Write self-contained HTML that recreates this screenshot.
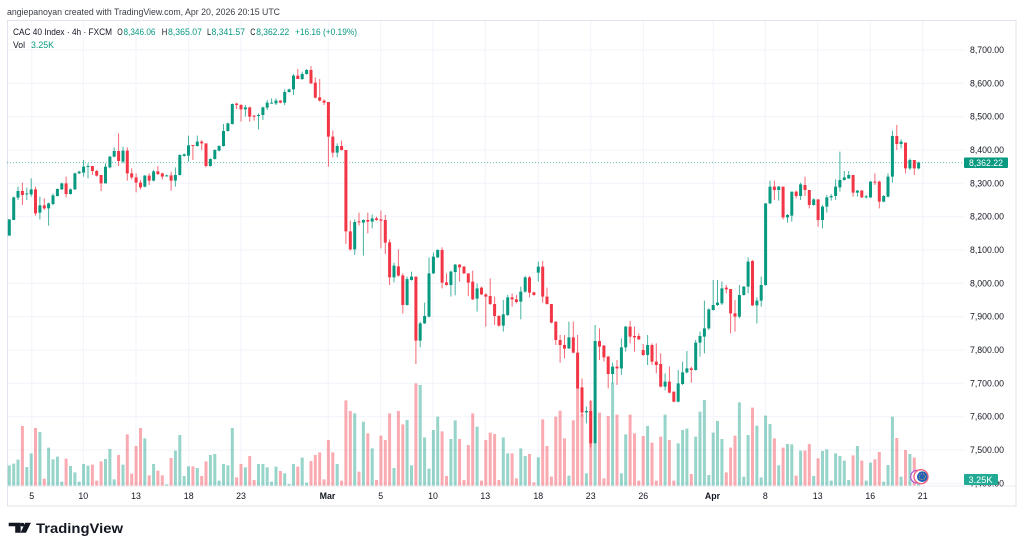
<!DOCTYPE html>
<html><head><meta charset="utf-8"><style>
html,body{margin:0;padding:0;background:#fff;}
svg{display:block;font-family:"Liberation Sans",sans-serif;}
</style></head><body>
<svg width="1024" height="550" viewBox="0 0 1024 550" xmlns="http://www.w3.org/2000/svg">
<rect width="1024" height="550" fill="#fff"/>
<defs><clipPath id="pc"><rect x="7.5" y="20.5" width="956" height="465.5"/></clipPath></defs>
<!-- grid -->
<g stroke="#f0f3fa" stroke-width="1">
<path d="M31.7 20V486M83.3 20V486M136 20V486M188.7 20V486M241 20V486M328.3 20V486M380.7 20V486M433 20V486M485.3 20V486M538.3 20V486M590.7 20V486M643.3 20V486M713.3 20V486M765.3 20V486M817.7 20V486M870.3 20V486M922.7 20V486"/>
<path d="M7 50H963M7 83.3H963M7 116.7H963M7 150H963M7 183.3H963M7 216.7H963M7 250H963M7 283.3H963M7 316.7H963M7 350H963M7 383.3H963M7 416.7H963M7 450H963M7 483.3H963"/>
</g>
<!-- frame -->
<rect x="7.5" y="20.5" width="1008.5" height="485.5" fill="none" stroke="#e0e3eb" stroke-width="1"/>
<path d="M7 486H1016" stroke="#eceef3" stroke-width="1"/>
<!-- header -->
<text x="7" y="15" font-size="9" fill="#3a3d46" textLength="273" lengthAdjust="spacingAndGlyphs">angiepanoyan created with TradingView.com, Apr 20, 2026 20:15 UTC</text>
<g font-size="9">
<text x="13" y="35" fill="#131722" textLength="99" lengthAdjust="spacingAndGlyphs">CAC 40 Index · 4h · FXCM</text>
<text x="117.3" y="35" fill="#131722" textLength="5.5" lengthAdjust="spacingAndGlyphs">O</text>
<text x="123.5" y="35" fill="#089981" textLength="32" lengthAdjust="spacingAndGlyphs">8,346.06</text>
<text x="161.8" y="35" fill="#131722" textLength="5.5" lengthAdjust="spacingAndGlyphs">H</text>
<text x="168" y="35" fill="#089981" textLength="34" lengthAdjust="spacingAndGlyphs">8,365.07</text>
<text x="207" y="35" fill="#131722" textLength="4.2" lengthAdjust="spacingAndGlyphs">L</text>
<text x="211.5" y="35" fill="#089981" textLength="33.5" lengthAdjust="spacingAndGlyphs">8,341.57</text>
<text x="250.2" y="35" fill="#131722" textLength="5.2" lengthAdjust="spacingAndGlyphs">C</text>
<text x="256.2" y="35" fill="#089981" textLength="33" lengthAdjust="spacingAndGlyphs">8,362.22</text>
<text x="295" y="35" fill="#089981" textLength="62" lengthAdjust="spacingAndGlyphs">+16.16 (+0.19%)</text>
<text x="13" y="48" fill="#131722" textLength="12" lengthAdjust="spacingAndGlyphs">Vol</text>
<text x="31" y="48" fill="#089981" textLength="23" lengthAdjust="spacingAndGlyphs">3.25K</text>
</g>
<!-- price line -->
<path d="M7 162.6H964" stroke="#089981" stroke-width="1" stroke-dasharray="1,2" opacity="0.6"/>
<!-- series -->
<g clip-path="url(#pc)">
<g transform="translate(0,60) scale(1,0.333333)" fill="none" stroke-linecap="butt">
<path stroke="#089981" stroke-opacity="0.42" stroke-width="3" d="M9.3 1216V1277M13.7 1211V1277M18 1199V1277M26.8 1221V1277M31.2 1180V1277M39.9 1116V1277M48.6 1163V1277M53 1198V1277M57.4 1190V1277M61.8 1265V1277M70.5 1218V1277M74.9 1237V1277M79.2 1265V1277M83.6 1212V1277M88 1217V1277M105.5 1197V1277M109.9 1167V1277M114.2 1258V1277M123 1214V1277M144.8 1135V1277M153.6 1212V1277M166.7 1273V1277M175.4 1172V1277M179.8 1125V1277M184.2 1248V1277M188.5 1219V1277M197.3 1224V1277M210.4 1185V1277M214.8 1182V1277M219.1 1262V1277M223.5 1212V1277M227.9 1216V1277M232.3 1104V1277M245.4 1222V1277M258.5 1212V1277M262.9 1212V1277M267.2 1222V1277M271.6 1265V1277M276 1220V1277M284.7 1240V1277M289.1 1272V1277M293.5 1212V1277M302.2 1193V1277M306.6 1268V1277M337.2 1212V1277M354.7 1060V1277M363.4 1085V1277M372.2 1165V1277M394 1224V1277M407.1 1080V1277M411.5 1216V1277M420.2 975V1277M424.6 1132V1277M429 1226V1277M433.4 1110V1277M437.7 1070V1277M450.9 1137V1277M455.2 1081V1277M477.1 1100V1277M503.3 1132V1277M507.7 1180V1277M520.8 1165V1277M525.2 1188V1277M538.3 1192V1277M568.9 1247V1277M586.4 1240V1277M595.1 1152V1277M612.6 968V1277M621.4 1240V1277M625.7 1123V1277M647.6 1098V1277M665.1 1064V1277M678.2 1150V1277M682.6 1110V1277M686.9 1106V1277M695.7 1130V1277M700 1055V1277M704.4 1020V1277M708.8 1245V1277M713.2 1118V1277M717.5 1083V1277M721.9 1137V1277M739.4 1027V1277M743.8 1250V1277M748.1 1125V1277M756.9 1097V1277M761.2 1252V1277M765.6 1067V1277M770 1092V1277M778.7 1216V1277M787.5 1152V1277M791.8 1153V1277M800.6 1172V1277M813.7 1248V1277M822.5 1173V1277M826.8 1168V1277M831.2 1262V1277M835.6 1180V1277M839.9 1188V1277M844.3 1202V1277M848.7 1260V1277M857.4 1158V1277M866.2 1262V1277M870.5 1208V1277M883.7 1265V1277M888 1215V1277M892.4 1070V1277M901.1 1250V1277M909.9 1182V1277M918.6 1262V1277"/>
<path stroke="#f23645" stroke-opacity="0.42" stroke-width="3" d="M22.4 1098V1277M35.5 1104V1277M44.3 1256V1277M66.1 1196V1277M92.4 1214V1277M96.7 1262V1277M101.1 1204V1277M118.6 1185V1277M127.3 1123V1277M131.7 1241V1277M136.1 1158V1277M140.5 1104V1277M149.2 1246V1277M157.9 1232V1277M162.3 1246V1277M171.1 1194V1277M192.9 1219V1277M201.7 1248V1277M206 1204V1277M236.6 1252V1277M241 1212V1277M249.7 1188V1277M254.1 1260V1277M280.4 1233V1277M297.8 1220V1277M311 1203V1277M315.3 1185V1277M319.7 1177V1277M324.1 1258V1277M328.4 1140V1277M332.8 1177V1277M341.6 1262V1277M345.9 1021V1277M350.3 1053V1277M359 1235V1277M367.8 1120V1277M376.5 1260V1277M380.9 1127V1277M385.3 1140V1277M389.6 1060V1277M398.4 1053V1277M402.8 1093V1277M415.9 970V1277M442.1 1114V1277M446.5 1248V1277M459.6 1137V1277M464 1260V1277M468.3 1155V1277M472.7 1060V1277M481.5 1262V1277M485.8 1140V1277M490.2 1118V1277M494.6 1122V1277M498.9 1260V1277M512.1 1180V1277M516.4 1255V1277M529.5 1182V1277M533.9 1267V1277M542.7 1078V1277M547 1158V1277M551.4 1250V1277M555.8 1070V1277M560.1 1052V1277M564.5 1135V1277M573.3 1081V1277M577.6 985V1277M582 1062V1277M590.7 1023V1277M599.5 1058V1277M603.9 1255V1277M608.2 1068V1277M617 1064V1277M630.1 1064V1277M634.5 1120V1277M638.8 1262V1277M643.2 1128V1277M652 1148V1277M656.3 1262V1277M660.7 1130V1277M669.4 1140V1277M673.8 1262V1277M691.3 1242V1277M726.3 1237V1277M730.6 1163V1277M735 1127V1277M752.5 1043V1277M774.4 1135V1277M783.1 1163V1277M796.2 1247V1277M805 1172V1277M809.3 1152V1277M818.1 1195V1277M853.1 1186V1277M861.8 1202V1277M874.9 1198V1277M879.3 1176V1277M896.8 1134V1277M905.5 1170V1277M914.3 1193V1277"/>
<path stroke="#089981" stroke-opacity="0.75" stroke-width="1" d="M9.3 478V527M13.7 410V480M18 380V420M26.8 383V420M31.2 355V410M39.9 410V478M48.6 428V497M53 400V436M57.4 385V410M61.8 368V390M70.5 385V404M74.9 338V390M79.2 332V342M83.6 300V350M88 310V355M105.5 310V370M109.9 288V325M114.2 262V292M123 260V310M144.8 345V382M153.6 330V364M166.7 344V350M175.4 322V380M179.8 283V347M184.2 280V290M188.5 227V305M197.3 227V260M210.4 295V320M214.8 268V299M219.1 256V274M223.5 192V260M227.9 188V215M232.3 130V194M245.4 135V170M258.5 160V208M262.9 140V180M267.2 120V150M271.6 115V131M276 115V135M284.7 88V135M289.1 86V98M293.5 42V105M302.2 35V60M306.6 27V44M337.2 250V292M354.7 478V585M363.4 478V587M372.2 463V505M394 608V667M407.1 650V737M411.5 635V662M420.2 785V862M424.6 728V792M429 592V772M433.4 578V642M437.7 568V594M450.9 632V710M455.2 612V706M477.1 670V755M503.3 720V815M507.7 705V768M520.8 680V778M525.2 648V698M538.3 605V665M568.9 785V867M586.4 1040V1090M595.1 795V1152M612.6 908V970M621.4 835V945M625.7 798V875M647.6 825V915M665.1 940V992M678.2 930V1027M682.6 905V975M686.9 873V940M695.7 840V932M700 815V890M704.4 722V880M708.8 745V810M713.2 660V752M717.5 660V738M721.9 665V735M739.4 675V775M743.8 678V707M748.1 592V700M756.9 712V790M761.2 650V740M765.6 430V677M770 362V432M778.7 378V422M787.5 462V488M791.8 395V485M800.6 368V420M813.7 415V437M822.5 435V505M826.8 405V458M831.2 402V422M835.6 358V420M839.9 275V395M844.3 333V362M848.7 333V357M857.4 390V410M866.2 405V415M870.5 363V414M883.7 405V427M888 340V412M892.4 212V368M901.1 238V265M909.9 295V330M918.6 305V328"/>
<path stroke="#f23645" stroke-opacity="0.75" stroke-width="1" d="M22.4 368V435M35.5 380V467M44.3 415V450M66.1 350V412M92.4 318V345M96.7 330V350M101.1 345V393M118.6 220V318M127.3 262V362M131.7 325V358M136.1 340V397M140.5 360V388M149.2 340V375M157.9 318V345M162.3 338V358M171.1 335V392M192.9 255V300M201.7 240V270M206 250V322M236.6 128V147M241 132V185M249.7 140V185M254.1 165V182M280.4 120V130M297.8 27V57M311 18V72M315.3 52V115M319.7 57V125M324.1 118V135M328.4 126V320M332.8 212V292M341.6 242V272M345.9 270V552M350.3 482V572M359 458V497M367.8 458V520M376.5 470V482M380.9 452V565M385.3 465V582M389.6 538V675M398.4 568V650M402.8 640V760M415.9 650V912M442.1 562V685M446.5 640V677M459.6 612V665M464 618V642M468.3 640V708M472.7 632V720M481.5 680V705M485.8 700V800M490.2 655V735M494.6 710V795M498.9 765V800M512.1 700V740M516.4 705V730M529.5 648V712M533.9 695V707M542.7 603V728M547 683V734M551.4 732V790M555.8 785V855M560.1 825V908M564.5 825V895M573.3 785V880M577.6 825V987M582 955V1070M590.7 1020V1162M599.5 805V900M603.9 855V905M608.2 888V985M617 900V975M630.1 783V850M634.5 800V875M638.8 820V840M643.2 852V888M652 850V915M656.3 850V940M660.7 880V982M669.4 920V1000M673.8 995V1027M691.3 920V968M726.3 675V700M730.6 687V820M735 720V815M752.5 600V738M774.4 362V420M783.1 380V478M796.2 392V415M805 350V408M809.3 390V445M818.1 418V500M853.1 345V410M861.8 390V414M874.9 340V375M879.3 362V445M896.8 195V270M905.5 248V340M914.3 300V345"/>
<path stroke="#089981" stroke-width="3" d="M9.3 478V527M13.7 412V480M18 393V413M26.8 400V403M31.2 388V403M39.9 436V458M48.6 430V445M53 406V432M57.4 387V408M61.8 370V388M70.5 388V402M74.9 340V388M79.2 335V340M83.6 320V338M88 318V321M105.5 320V370M109.9 290V322M114.2 273V290M123 272V305M144.8 347V380M153.6 334V362M166.7 346V349M175.4 345V362M179.8 285V345M184.2 283V288M188.5 256V287M197.3 245V258M210.4 297V318M214.8 270V297M219.1 258V272M223.5 213V258M227.9 190V213M232.3 132V192M245.4 142V148M258.5 165V168M262.9 142V165M267.2 128V143M271.6 128V131M276 122V130M284.7 96V128M289.1 88V96M293.5 47V88M302.2 42V57M306.6 30V42M337.2 258V278M354.7 486V568M363.4 480V488M372.2 475V485M394 617V652M407.1 657V735M411.5 650V660M420.2 790V842M424.6 768V790M429 640V770M433.4 590V640M437.7 570V592M450.9 635V675M455.2 614V636M477.1 685V716M503.3 763V797M507.7 712V765M520.8 695V725M525.2 652V695M538.3 620V638M568.9 832V865M586.4 1053V1057M595.1 843V1150M612.6 920V942M621.4 862V925M625.7 800V862M647.6 855V885M665.1 965V980M678.2 970V1025M682.6 937V972M686.9 925V937M695.7 848V930M700 828V848M704.4 805V830M708.8 748V805M713.2 735V750M717.5 728V735M721.9 685V730M739.4 705V770M743.8 680V705M748.1 605V680M756.9 722V736M761.2 675V722M765.6 430V675M770 380V430M778.7 380V390M787.5 465V472M791.8 395V467M800.6 373V408M813.7 418V435M822.5 440V480M826.8 412V440M831.2 408V412M835.6 380V408M839.9 360V382M844.3 352V360M848.7 345V355M857.4 392V398M866.2 409V412M870.5 365V412M883.7 408V425M888 350V410M892.4 228V350M901.1 245V252M909.9 300V325M918.6 308V325"/>
<path stroke="#f23645" stroke-width="3" d="M22.4 393V405M35.5 388V460M44.3 436V445M66.1 370V402M92.4 318V333M96.7 333V347M101.1 345V370M118.6 273V303M127.3 272V340M131.7 340V352M136.1 352V368M140.5 368V382M149.2 347V362M157.9 334V342M162.3 340V350M171.1 346V362M192.9 255V258M201.7 245V250M206 250V318M236.6 131V135M241 135V148M249.7 142V170M254.1 167V170M280.4 122V128M297.8 47V57M311 30V70M315.3 68V113M319.7 112V122M324.1 122V128M328.4 126V230M332.8 230V278M341.6 258V270M345.9 270V514M350.3 514V568M359 484V487M367.8 480V485M376.5 475V480M380.9 478V482M385.3 480V548M389.6 547V652M398.4 619V647M402.8 646V735M415.9 650V842M442.1 570V668M446.5 667V675M459.6 614V622M464 620V640M468.3 640V668M472.7 665V718M481.5 683V703M485.8 703V710M490.2 708V732M494.6 732V768M498.9 768V797M512.1 712V718M516.4 718V726M529.5 652V698M533.9 697V705M542.7 620V710M547 710V732M551.4 732V788M555.8 785V840M560.1 840V855M564.5 855V866M573.3 832V878M577.6 878V985M582 982V1058M590.7 1053V1150M599.5 843V860M603.9 857V892M608.2 890V942M617 920V925M630.1 800V830M634.5 828V832M638.8 828V838M643.2 870V885M652 855V905M656.3 905V915M660.7 912V980M669.4 965V998M673.8 995V1025M691.3 925V930M726.3 683V688M730.6 687V760M735 760V770M752.5 603V736M774.4 380V390M783.1 380V472M796.2 395V408M805 375V390M809.3 390V435M818.1 418V480M853.1 345V398M861.8 392V412M874.9 365V368M879.3 365V425M896.8 228V252M905.5 248V325M914.3 300V325"/>
</g>
</g>
<!-- event icon -->
<circle cx="917" cy="476.7" r="6.3" fill="#fff" stroke="#b04fd0" stroke-width="1.2"/>
<circle cx="921" cy="476.7" r="7" fill="#fff" stroke="#f0607a" stroke-width="1.4"/>
<circle cx="922.3" cy="476.7" r="5.3" fill="#2460b8"/>
<circle cx="922.3" cy="476.7" r="3" fill="none" stroke="#e8c84a" stroke-width="0.8" stroke-dasharray="0.8,1"/>
<!-- price axis -->
<g font-size="8.8" fill="#131722">
<text x="970" y="53" textLength="34" lengthAdjust="spacingAndGlyphs">8,700.00</text>
<text x="970" y="86.3" textLength="34" lengthAdjust="spacingAndGlyphs">8,600.00</text>
<text x="970" y="119.7" textLength="34" lengthAdjust="spacingAndGlyphs">8,500.00</text>
<text x="970" y="153" textLength="34" lengthAdjust="spacingAndGlyphs">8,400.00</text>
<text x="970" y="186.3" textLength="34" lengthAdjust="spacingAndGlyphs">8,300.00</text>
<text x="970" y="219.7" textLength="34" lengthAdjust="spacingAndGlyphs">8,200.00</text>
<text x="970" y="253" textLength="34" lengthAdjust="spacingAndGlyphs">8,100.00</text>
<text x="970" y="286.3" textLength="34" lengthAdjust="spacingAndGlyphs">8,000.00</text>
<text x="970" y="319.7" textLength="34" lengthAdjust="spacingAndGlyphs">7,900.00</text>
<text x="970" y="353" textLength="34" lengthAdjust="spacingAndGlyphs">7,800.00</text>
<text x="970" y="386.3" textLength="34" lengthAdjust="spacingAndGlyphs">7,700.00</text>
<text x="970" y="419.7" textLength="34" lengthAdjust="spacingAndGlyphs">7,600.00</text>
<text x="970" y="453" textLength="34" lengthAdjust="spacingAndGlyphs">7,500.00</text>
<text x="970" y="486.3" textLength="34" lengthAdjust="spacingAndGlyphs">7,400.00</text>
</g>
<rect x="964" y="157.5" width="44" height="10.5" rx="1" fill="#089981"/>
<text x="969" y="166" font-size="8.8" fill="#fff" textLength="34" lengthAdjust="spacingAndGlyphs">8,362.22</text>
<rect x="964" y="474" width="34" height="11" rx="1" fill="#22ab94"/>
<text x="968.5" y="482.8" font-size="8.8" fill="#fff" textLength="24" lengthAdjust="spacingAndGlyphs">3.25K</text>
<!-- time axis -->
<g font-size="8.8" fill="#131722" text-anchor="middle">
<text x="31.7" y="499">5</text>
<text x="83.3" y="499">10</text>
<text x="136" y="499">13</text>
<text x="188.7" y="499">18</text>
<text x="241" y="499">23</text>
<text x="327.5" y="499" font-weight="bold">Mar</text>
<text x="380.7" y="499">5</text>
<text x="433" y="499">10</text>
<text x="485.3" y="499">13</text>
<text x="538.3" y="499">18</text>
<text x="590.7" y="499">23</text>
<text x="643.3" y="499">26</text>
<text x="712.5" y="499" font-weight="bold">Apr</text>
<text x="765.3" y="499">8</text>
<text x="817.7" y="499">13</text>
<text x="870.3" y="499">16</text>
<text x="922.7" y="499">21</text>
</g>
<!-- logo -->
<path d="M8.7 522.7H20.7V532.8H15.2V526.2H8.7Z" fill="#131722"/>
<circle cx="22.4" cy="524.6" r="1.9" fill="#131722"/>
<path d="M25.2 522.7H30.9L26 532.8H20.5Z" fill="#131722"/>
<text x="36" y="532.8" font-size="14" font-weight="bold" fill="#131722" textLength="87" lengthAdjust="spacingAndGlyphs">TradingView</text>
</svg>
</body></html>
